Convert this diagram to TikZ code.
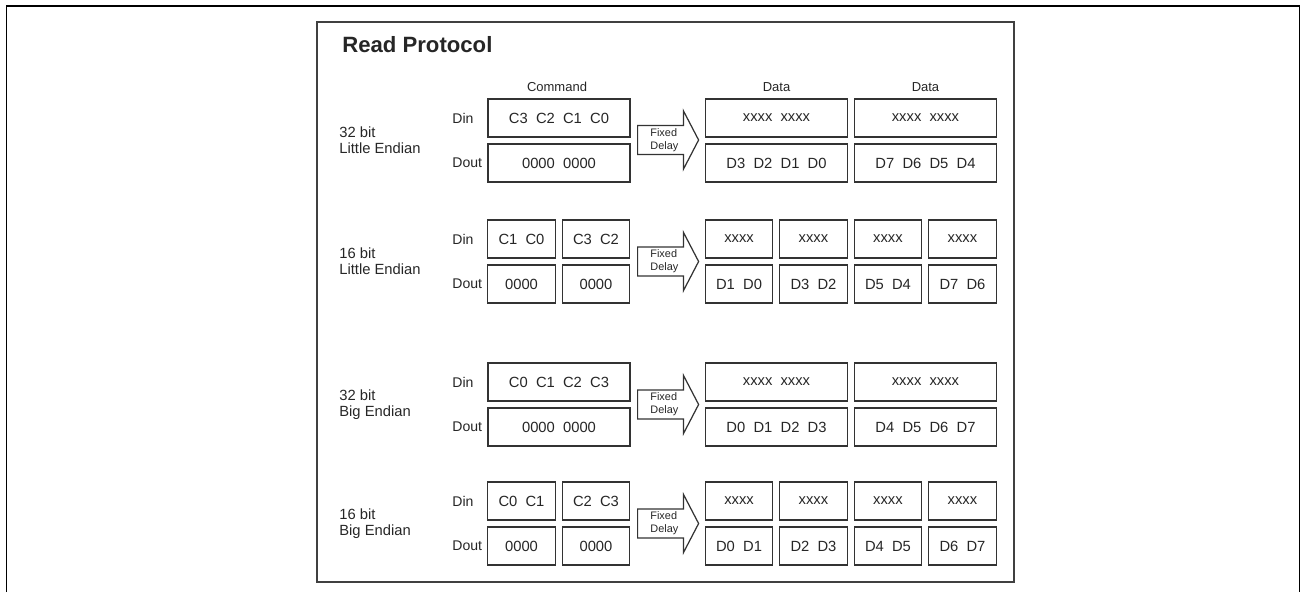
\documentclass[tikz,border=0pt]{standalone}
\usepackage{fontspec}
\setmainfont{Liberation Sans}
\usetikzlibrary{positioning,shapes.arrows}

\begin{document}
\begin{tikzpicture}[
    x=0.02cm,y=-0.02cm,
    every node/.style={text=black!85},
    cell/.style={rectangle,draw=black!80,line width=0.7pt,outer sep=0pt,inner sep=0pt,minimum height=0.76cm,font=\fontsize{8.4}{10}\selectfont},
    wide/.style={cell,minimum width=2.84cm},
    half/.style={cell,minimum width=1.35cm},
    port/.style={anchor=west,inner sep=0pt,font=\fontsize{8}{10}\selectfont},
    endian/.style={anchor=west,align=left,inner sep=0pt,font=\fontsize{8.4}{9}\selectfont},
    colhead/.style={inner sep=0pt,font=\fontsize{7.4}{9}\selectfont},
    delay/.style={single arrow,draw=black!80,line width=0.7pt,anchor=tail,align=left,inner sep=1pt,
        minimum height=1.22cm,minimum width=1.16cm,single arrow head extend=0.28cm,
        single arrow tip angle=125,single arrow head indent=0pt,font=\fontsize{6.2}{7.4}\selectfont}
]
% outer and inner frame
\useasboundingbox (0,0) rectangle (1301,592);
\draw[line width=1.1pt] (6.5,592) |- (1299.5,5.8) -- (1299.5,592);
\draw[draw=black!75,line width=0.6pt] (317,22) rectangle (1014,582);
\node[anchor=base west,inner sep=0pt,font=\bfseries\fontsize{12.6}{15}\selectfont] (title) at (342,52) {Read Protocol};

% 32 bit little endian
\node[endian] (le32) at (339,140) {32 bit\\Little Endian};
\node[port] (le32in) at (452,118) {Din};
\node[port] (le32out) at (452,163) {Dout};
\node[wide] (le32c) at (559,118) {C3~~C2~~C1~~C0};
\node[wide,below=0.14cm of le32c] (le32z) {0000~~0000};
\node[delay] (le32fd) at (637,140) {Fixed\\Delay};
\node[wide] (le32x1) at (776.5,118) {xxxx~~xxxx};
\node[wide,right=0.14cm of le32x1] (le32x2) {xxxx~~xxxx};
\node[wide,below=0.14cm of le32x1] (le32d1) {D3~~D2~~D1~~D0};
\node[wide,below=0.14cm of le32x2] (le32d2) {D7~~D6~~D5~~D4};
\node[colhead,above=0.15cm of le32c,xshift=-0.04cm] (cmdhead) {Command};
\node[colhead,above=0.15cm of le32x1] (datahead1) {Data};
\node[colhead,above=0.15cm of le32x2] (datahead2) {Data};

% 16 bit little endian
\node[endian] (le16) at (339,261.5) {16 bit\\Little Endian};
\node[port] (le16in) at (452,239) {Din};
\node[port] (le16out) at (452,284) {Dout};
\node[half] (le16c1) at (521.5,239) {C1~~C0};
\node[half,right=0.14cm of le16c1] (le16c2) {C3~~C2};
\node[half,below=0.14cm of le16c1] (le16z1) {0000};
\node[half,below=0.14cm of le16c2] (le16z2) {0000};
\node[delay] (le16fd) at (637,261.5) {Fixed\\Delay};
\node[half] (le16x1) at (739,239) {xxxx};
\node[half,right=0.14cm of le16x1] (le16x2) {xxxx};
\node[half,right=0.14cm of le16x2] (le16x3) {xxxx};
\node[half,right=0.14cm of le16x3] (le16x4) {xxxx};
\node[half,below=0.14cm of le16x1] (le16d1) {D1~~D0};
\node[half,below=0.14cm of le16x2] (le16d2) {D3~~D2};
\node[half,below=0.14cm of le16x3] (le16d3) {D5~~D4};
\node[half,below=0.14cm of le16x4] (le16d4) {D7~~D6};

% 32 bit big endian
\node[endian] (be32) at (339,404.5) {32 bit\\Big Endian};
\node[port] (be32in) at (452,382) {Din};
\node[port] (be32out) at (452,427) {Dout};
\node[wide] (be32c) at (559,382) {C0~~C1~~C2~~C3};
\node[wide,below=0.14cm of be32c] (be32z) {0000~~0000};
\node[delay] (be32fd) at (637,404.5) {Fixed\\Delay};
\node[wide] (be32x1) at (776.5,382) {xxxx~~xxxx};
\node[wide,right=0.14cm of be32x1] (be32x2) {xxxx~~xxxx};
\node[wide,below=0.14cm of be32x1] (be32d1) {D0~~D1~~D2~~D3};
\node[wide,below=0.14cm of be32x2] (be32d2) {D4~~D5~~D6~~D7};

% 16 bit big endian
\node[endian] (be16) at (339,523.5) {16 bit\\Big Endian};
\node[port] (be16in) at (452,501) {Din};
\node[port] (be16out) at (452,546) {Dout};
\node[half] (be16c1) at (521.5,501) {C0~~C1};
\node[half,right=0.14cm of be16c1] (be16c2) {C2~~C3};
\node[half,below=0.14cm of be16c1] (be16z1) {0000};
\node[half,below=0.14cm of be16c2] (be16z2) {0000};
\node[delay] (be16fd) at (637,523.5) {Fixed\\Delay};
\node[half] (be16x1) at (739,501) {xxxx};
\node[half,right=0.14cm of be16x1] (be16x2) {xxxx};
\node[half,right=0.14cm of be16x2] (be16x3) {xxxx};
\node[half,right=0.14cm of be16x3] (be16x4) {xxxx};
\node[half,below=0.14cm of be16x1] (be16d1) {D0~~D1};
\node[half,below=0.14cm of be16x2] (be16d2) {D2~~D3};
\node[half,below=0.14cm of be16x3] (be16d3) {D4~~D5};
\node[half,below=0.14cm of be16x4] (be16d4) {D6~~D7};
\end{tikzpicture}
\end{document}
